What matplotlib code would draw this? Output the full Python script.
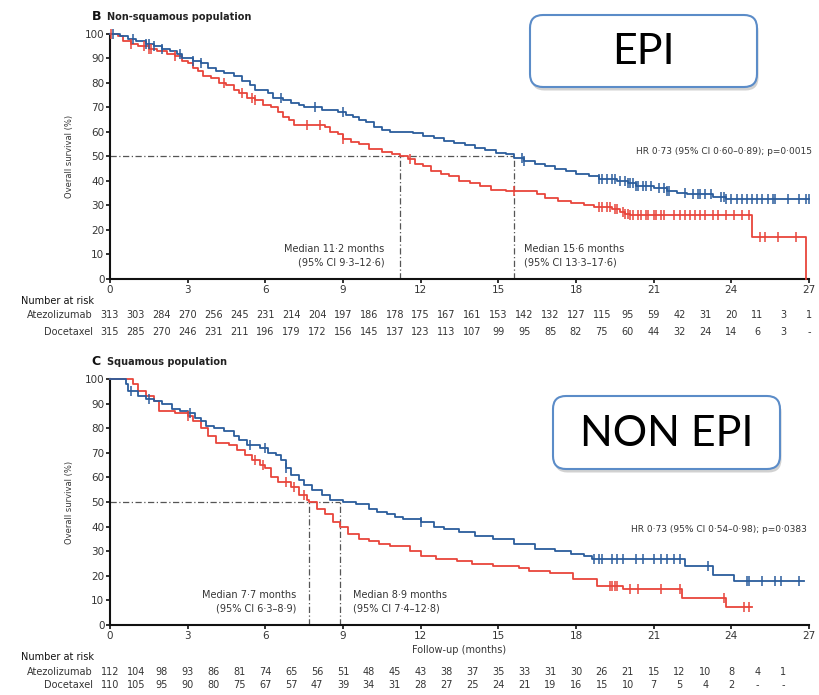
import numpy as np
import matplotlib.pyplot as plt
import matplotlib.transforms as mtransforms
from matplotlib.patches import FancyBboxPatch

plt.rcParams["font.family"] = ["Liberation Sans Narrow", "DejaVu Sans"]

ATEZO_COLOR = "#2b5d9c"
DOCE_COLOR = "#e8453c"
INK = "#353535"
MEDIAN_COLOR = "#555555"

# ---- Panel B: non-squamous population ----
b_atezo_t = [0, 0.4, 0.7, 1.0, 1.4, 1.7, 2.0, 2.3, 2.6, 2.8, 3.2, 3.5, 3.8, 4.1, 4.4, 4.8,
             5.1, 5.4, 5.6, 6.1, 6.3, 6.7, 7.0, 7.3, 7.5, 8.2, 8.8, 9.1, 9.4, 9.6, 9.9, 10.2,
             10.5, 10.8, 11.7, 12.1, 12.5, 12.9, 13.3, 13.7, 14.1, 14.5, 14.9, 15.3, 15.6, 16.0,
             16.4, 16.8, 17.2, 17.6, 18.0, 18.5, 18.9, 19.6, 20.0, 20.3, 21.0, 21.5, 21.9, 22.3,
             23.3, 23.8]
b_atezo_s = [100, 99, 98, 97, 96, 95, 94, 93, 92, 90, 89, 88, 86, 85, 84, 83,
             81, 79, 77, 76, 74, 73, 72, 71, 70, 69, 68, 67, 66, 65, 64, 62,
             61, 60, 59.5, 58.5, 57.5, 56.5, 55.5, 54.5, 53.5, 52.5, 51.5, 51, 49.5, 48,
             47, 46, 45, 44, 43, 42, 41, 40, 39, 38, 37, 36, 35, 34.5,
             33.5, 32.5]
b_atezo_end = 27.0
b_atezo_cens = [0.1, 0.9, 1.4, 1.5, 1.7, 2.0, 2.7, 3.2, 3.5, 6.6, 7.9, 9.0, 15.9, 16.0,
                18.9, 19.0, 19.2, 19.4, 19.5, 19.7, 19.9, 20.0, 20.1, 20.2, 20.3, 20.4, 20.6,
                20.7, 20.9, 21.2, 21.4, 21.5, 21.6, 22.2, 22.5, 22.7, 22.8, 23.0, 23.2, 23.6,
                23.7, 23.8, 24.0, 24.2, 24.4, 24.6, 24.8, 25.0, 25.2, 25.4, 25.6, 25.7, 26.2,
                26.6, 26.9, 27.0]

b_doce_t = [0, 0.3, 0.5, 0.8, 1.1, 1.5, 1.8, 2.2, 2.5, 2.8, 3.0, 3.2, 3.4, 3.6, 3.9, 4.2,
            4.5, 4.8, 5.0, 5.3, 5.6, 5.9, 6.2, 6.5, 6.7, 6.9, 7.1, 8.3, 8.5, 8.8, 9.0, 9.3,
            9.6, 10.0, 10.5, 10.9, 11.2, 11.5, 11.8, 12.1, 12.4, 12.8, 13.1, 13.5, 13.9, 14.3,
            14.7, 15.3, 16.5, 16.8, 17.3, 17.8, 18.3, 18.7, 19.4, 19.7, 19.9, 20.1, 24.8, 26.9]
b_doce_s = [100, 99, 97, 96, 95, 94, 93, 92, 91, 89, 88, 86, 85, 83, 82, 80,
            79, 77, 76, 74, 73, 71, 70, 68, 66, 65, 63, 62, 60, 59, 57, 56,
            55, 53, 52, 51, 50, 49, 47, 46, 44, 43, 42, 40, 39, 38,
            36.5, 36, 34.5, 33, 32, 31, 30, 29.5, 28.5, 27.5, 26.5, 26, 17, 0]
b_doce_end = 26.9
b_doce_cens = [0.05, 0.8, 1.3, 1.5, 1.6, 2.5, 4.4, 5.1, 5.5, 5.6, 7.6, 8.1, 9.0, 11.6, 15.6,
               18.9, 19.0, 19.2, 19.3, 19.5, 19.6, 19.8, 19.9, 20.0, 20.1, 20.2, 20.4, 20.5,
               20.7, 20.8, 21.0, 21.1, 21.3, 21.4, 21.8, 22.0, 22.2, 22.4, 22.6, 22.8, 23.0,
               23.3, 23.5, 23.8, 24.1, 24.4, 24.7, 25.1, 25.3, 25.8, 26.5]

b_risk_atezo = [313, 303, 284, 270, 256, 245, 231, 214, 204, 197, 186, 178, 175, 167, 161,
                153, 142, 132, 127, 115, 95, 59, 42, 31, 20, 11, 3, 1]
b_risk_doce = [315, 285, 270, 246, 231, 211, 196, 179, 172, 156, 145, 137, 123, 113, 107,
               99, 95, 85, 82, 75, 60, 44, 32, 24, 14, 6, 3, None]
b_medians = [11.2, 15.6]

# ---- Panel C: squamous population ----
c_atezo_t = [0, 0.6, 0.7, 1.1, 1.4, 1.7, 2.0, 2.4, 2.7, 3.0, 3.3, 3.5, 3.7, 4.0, 4.4, 4.8,
             5.0, 5.3, 5.8, 6.1, 6.4, 6.6, 6.8, 7.0, 7.3, 7.5, 7.8, 8.2, 8.5, 9.0, 9.5, 10.0,
             10.3, 10.7, 11.0, 11.3, 12.0, 12.5, 12.9, 13.5, 14.1, 14.8, 15.6, 16.4, 17.2,
             17.8, 18.3, 18.6, 22.2, 23.3, 24.1]
c_atezo_s = [100, 98, 95, 93, 92, 91, 90, 88, 87, 86, 84, 83, 81, 80, 79, 77,
             75, 73, 72, 70, 69, 67, 64, 61, 59, 57, 55, 53, 51, 50, 49, 47,
             46, 45, 44, 43, 42, 40, 39, 38, 36, 35, 33, 31, 30,
             29, 28, 27, 24, 20.5, 18]
c_atezo_end = 26.8
c_atezo_cens = [0.8, 1.5, 3.1, 5.4, 6.0, 6.8, 12.0, 18.7, 18.9, 19.0, 19.4, 19.6, 19.8, 20.3,
                20.6, 21.0, 21.3, 21.5, 21.8, 22.0, 23.1, 24.6, 24.7, 25.2, 25.7, 25.9, 26.6]

c_doce_t = [0, 0.9, 1.1, 1.4, 1.7, 1.9, 2.5, 3.0, 3.2, 3.5, 3.8, 4.1, 4.6, 4.9, 5.2, 5.5,
            5.8, 6.0, 6.2, 6.5, 7.0, 7.3, 7.6, 7.7, 8.0, 8.3, 8.6, 8.9, 9.2, 9.6, 10.0, 10.4,
            10.8, 11.6, 12.0, 12.6, 13.4, 14.0, 14.8, 15.8, 16.2, 17.0, 17.9, 18.8, 19.8,
            22.1, 23.8]
c_doce_s = [100, 98, 95, 93, 91, 87, 86, 85, 83, 80, 77, 74, 73, 71, 69, 67,
            65, 64, 60, 58, 56, 53, 51, 50, 47, 45, 42, 40, 37, 35, 34, 33,
            32, 30, 28, 27, 26, 25, 24, 23, 22, 21, 18.5, 16, 14.5,
            11, 7.5]
c_doce_end = 24.8
c_doce_cens = [3.0, 5.6, 5.9, 6.8, 7.1, 7.5, 19.3, 19.4, 19.5, 19.6, 20.1, 20.4, 21.3, 22.0,
               23.7, 24.5, 24.7]

c_risk_atezo = [112, 104, 98, 93, 86, 81, 74, 65, 56, 51, 48, 45, 43, 38, 37, 35, 33, 31,
                30, 26, 21, 15, 12, 10, 8, 4, 1]
c_risk_doce = [110, 105, 95, 90, 80, 75, 67, 57, 47, 39, 34, 31, 28, 27, 25, 24, 21, 19,
               16, 15, 10, 7, 5, 4, 2, None, None]
c_medians = [7.7, 8.9]


def draw_km(ax, t, s, end, cens, color):
    t = np.asarray(t, float)
    s = np.asarray(s, float)
    ax.step(np.append(t, end), np.append(s, s[-1]), where="post",
            color=color, lw=1.3, clip_on=False, zorder=3)
    idx = np.searchsorted(t, cens, side="right") - 1
    ax.plot(cens, s[idx], ls="none", marker="|", ms=7, mew=1.1,
            color=color, clip_on=False, zorder=4)


def draw_medians(ax, medians):
    kw = dict(color=MEDIAN_COLOR, lw=0.9, ls=(0, (5, 2, 1, 2)), zorder=2)
    ax.plot([0, max(medians)], [50, 50], **kw)
    for m in medians:
        ax.plot([m, m], [0, 50], **kw)


def style_axes(ax):
    ax.set_xlim(0, 27)
    ax.set_ylim(0, 100)
    ax.set_xticks(np.arange(0, 28, 3))
    ax.set_yticks(np.arange(0, 101, 10))
    for side in ("top", "right"):
        ax.spines[side].set_visible(False)
    for side in ("left", "bottom"):
        ax.spines[side].set_linewidth(1.5)
        ax.spines[side].set_color("#111111")
    ax.tick_params(length=3, width=1.2, color="#111111", labelsize=7.5,
                   labelcolor=INK, pad=1)
    ax.set_ylabel("Overall survival (%)", fontsize=6, color=INK, labelpad=8)


def risk_table(ax, atezo, doce, y_head, y_a, y_d):
    tr = mtransforms.blended_transform_factory(ax.transData, ax.transAxes)
    ax.text(-3.45, y_head, "Number at risk", transform=tr, fontsize=7, color="#111111",
            ha="left", va="center", clip_on=False)
    ax.text(-0.65, y_a, "Atezolizumab", transform=tr, fontsize=7, color=INK,
            ha="right", va="center")
    ax.text(-0.65, y_d, "Docetaxel", transform=tr, fontsize=7, color=INK,
            ha="right", va="center")
    for month, (a, d) in enumerate(zip(atezo, doce)):
        ax.text(month, y_a, "-" if a is None else str(a), transform=tr, fontsize=7,
                color=INK, ha="center", va="center")
        ax.text(month, y_d, "-" if d is None else str(d), transform=tr, fontsize=7,
                color=INK, ha="center", va="center")


def label_box(fig, x, y, w, h, text):
    # coordinates in inches from the lower-left corner of the figure
    tr = fig.dpi_scale_trans
    shadow = FancyBboxPatch((x + 0.015, y - 0.035), w, h,
                            boxstyle="round,pad=0,rounding_size=0.13",
                            transform=tr, fc="#9a9a9a", ec="none", alpha=0.45)
    box = FancyBboxPatch((x, y), w, h, boxstyle="round,pad=0,rounding_size=0.13",
                         transform=tr, fc="white", ec="#5b8cc8", lw=1.5)
    fig.patches.extend([shadow, box])
    fig.text(x + w / 2, y + h / 2 - 0.01, text, transform=tr, ha="center", va="center",
             fontsize=31, family=["Lato", "DejaVu Sans"], color="black")


fig = plt.figure(figsize=(8.19, 6.95), dpi=100)
ax_b = fig.add_axes([0.1343, 0.5986, 0.8535, 0.3525])
ax_c = fig.add_axes([0.1343, 0.1007, 0.8535, 0.3540])

# Panel B
style_axes(ax_b)
draw_medians(ax_b, b_medians)
draw_km(ax_b, b_doce_t, b_doce_s, b_doce_end, b_doce_cens, DOCE_COLOR)
draw_km(ax_b, b_atezo_t, b_atezo_s, b_atezo_end, b_atezo_cens, ATEZO_COLOR)
ax_b.text(10.6, 4.5, "Median 11·2 months\n(95% CI 9·3–12·6)", ha="right", va="bottom",
          multialignment="right", fontsize=7, color=INK, linespacing=1.5)
ax_b.text(16.0, 4.5, "Median 15·6 months\n(95% CI 13·3–17·6)", ha="left", va="bottom",
          fontsize=7, color=INK, linespacing=1.5)
ax_b.text(27.1, 52, "HR 0·73 (95% CI 0·60–0·89); p=0·0015", ha="right", va="center",
          fontsize=6.5, color=INK)
ax_b.text(-0.5, 1.07, "B", transform=mtransforms.blended_transform_factory(
    ax_b.transData, ax_b.transAxes), fontsize=9, weight="bold", color="#111111",
    ha="center", va="center")
ax_b.text(-0.1, 1.07, "Non-squamous population", transform=mtransforms.blended_transform_factory(
    ax_b.transData, ax_b.transAxes), fontsize=7, weight="bold", color="#222222",
    ha="left", va="center")
risk_table(ax_b, b_risk_atezo, b_risk_doce, -0.09, -0.147, -0.216)

# Panel C
style_axes(ax_c)
draw_medians(ax_c, c_medians)
draw_km(ax_c, c_doce_t, c_doce_s, c_doce_end, c_doce_cens, DOCE_COLOR)
draw_km(ax_c, c_atezo_t, c_atezo_s, c_atezo_end, c_atezo_cens, ATEZO_COLOR)
ax_c.text(7.2, 4.5, "Median 7·7 months\n(95% CI 6·3–8·9)", ha="right", va="bottom",
          multialignment="right", fontsize=7, color=INK, linespacing=1.5)
ax_c.text(9.4, 4.5, "Median 8·9 months\n(95% CI 7·4–12·8)", ha="left", va="bottom",
          fontsize=7, color=INK, linespacing=1.5)
ax_c.text(26.9, 39, "HR 0·73 (95% CI 0·54–0·98); p=0·0383", ha="right", va="center",
          fontsize=6.5, color=INK)
ax_c.text(-0.55, 1.07, "C", transform=mtransforms.blended_transform_factory(
    ax_c.transData, ax_c.transAxes), fontsize=9, weight="bold", color="#111111",
    ha="center", va="center")
ax_c.text(-0.1, 1.07, "Squamous population", transform=mtransforms.blended_transform_factory(
    ax_c.transData, ax_c.transAxes), fontsize=7, weight="bold", color="#222222",
    ha="left", va="center")
ax_c.text(13.5, -0.1, "Follow-up (months)", transform=mtransforms.blended_transform_factory(
    ax_c.transData, ax_c.transAxes), fontsize=7, color=INK, ha="center", va="center")
risk_table(ax_c, c_risk_atezo, c_risk_doce, -0.13, -0.191, -0.244)

label_box(fig, 5.30, 6.08, 2.27, 0.72, "EPI")
label_box(fig, 5.53, 2.26, 2.27, 0.73, "NON EPI")

fig.savefig("out.png", dpi=100, facecolor="white")
